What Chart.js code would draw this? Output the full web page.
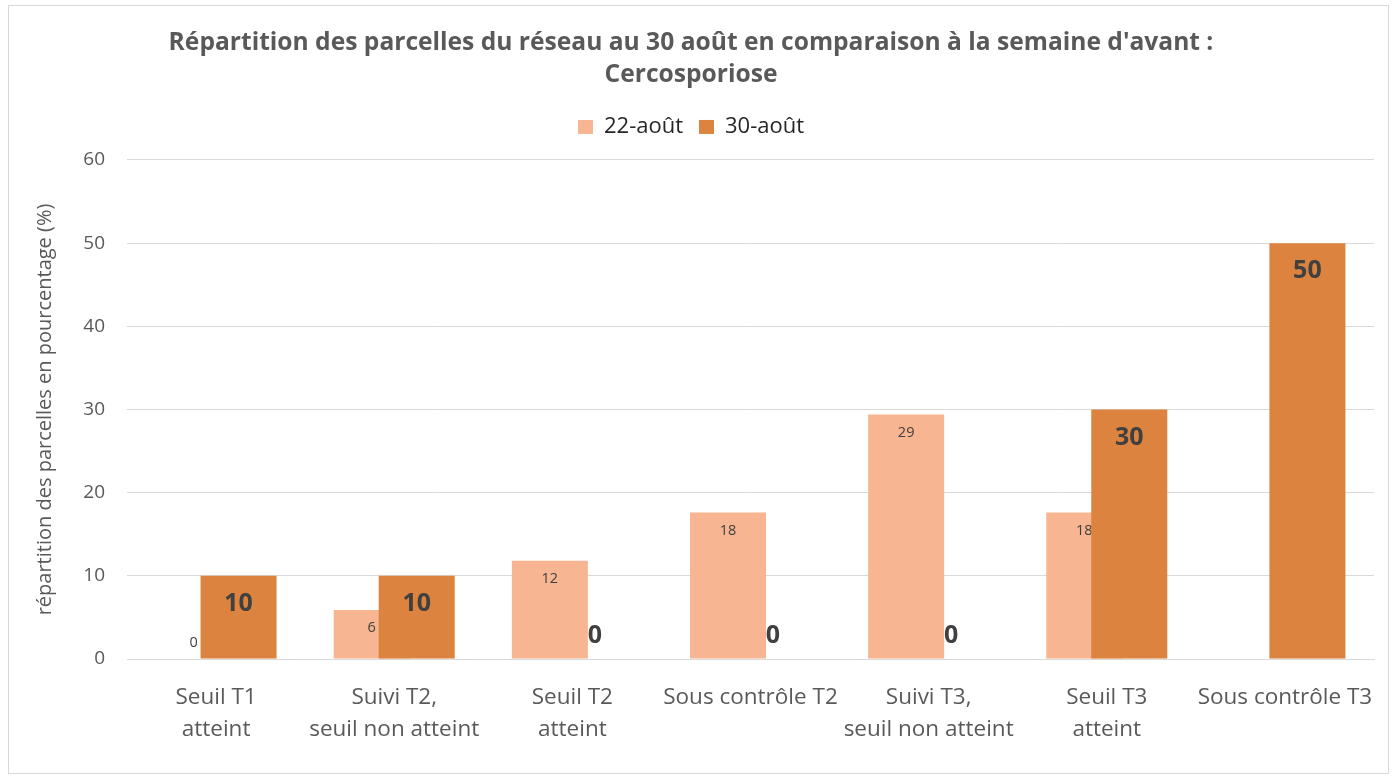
<!DOCTYPE html>
<html>
<head>
<meta charset="utf-8">
<script src="https://cdn.jsdelivr.net/npm/chart.js@4.4.1/dist/chart.umd.min.js"></script>
<style>
    html, body { margin: 0; padding: 0; background: #ffffff; }
    #wrap { width: 1393px; height: 778px; }
</style>
</head>
<body>
<div id="wrap"><canvas id="chart" width="1393" height="778"></canvas></div>
<script>
// Chart data
const categories = [
    ['Seuil T1', 'atteint'],
    ['Suivi T2,', 'seuil non atteint'],
    ['Seuil T2', 'atteint'],
    'Sous contrôle T2',
    ['Suivi T3,', 'seuil non atteint'],
    ['Seuil T3', 'atteint'],
    'Sous contrôle T3'
];
const seriesNames = ['22-août', '30-août'];
const values22 = [0, 5.9, 11.8, 17.6, 29.4, 17.6, null];
const values30 = [10, 10, 0, 0, 0, 30, 50];
const yMin = 0;
const yMax = 60;
const yStep = 10;

const FONT = "'Open Sans', 'Noto Sans', sans-serif";
const GRAY = '#595959';

// white background + thin frame around the whole chart
const framePlugin = {
    id: 'frame',
    beforeDraw(chart) {
        const ctx = chart.ctx;
        ctx.save();
        ctx.fillStyle = '#ffffff';
        ctx.fillRect(0, 0, chart.width, chart.height);
        ctx.strokeStyle = '#d9d9d9';
        ctx.lineWidth = 1;
        ctx.strokeRect(8.5, 5.5, 1380, 768);
        ctx.restore();
    }
};

// leave some extra room under the legend
const legendSpace = {
    id: 'legendSpace',
    beforeLayout(chart) {
        const legend = chart.legend;
        if (legend && !legend._patched) {
            const fit = legend.fit;
            legend.fit = function () {
                fit.call(this);
                this.height += 12;
            };
            legend._patched = true;
        }
    }
};

function drawValueLabels(chart, index) {
    const ctx = chart.ctx;
    const meta = chart.getDatasetMeta(index);
    const data = chart.data.datasets[index].data;
    const base = chart.scales.y.getPixelForValue(0);
    ctx.save();
    ctx.textAlign = 'center';
    ctx.textBaseline = 'middle';
    ctx.fillStyle = '#404040';
    meta.data.forEach(function (bar, i) {
        const v = data[i];
        if (v === null || v === undefined) return;
        let y;
        if (index === 0) {
            ctx.font = "14.5px " + FONT;
            y = v === 0 ? base - 16 : bar.y + 18;
        } else {
            ctx.font = "bold 25px " + FONT;
            y = v === 0 ? base - 23 : bar.y + 28;
        }
        ctx.fillText(String(Math.round(v)), bar.x, y);
    });
    ctx.restore();
}

// draw 22-août first (with its labels), then 30-août on top of it
const layeredBars = {
    id: 'layeredBars',
    beforeDatasetsDraw(chart) {
        for (let i = 0; i < chart.data.datasets.length; i++) {
            chart.getDatasetMeta(i).controller.draw();
            drawValueLabels(chart, i);
        }
        return false;
    }
};

const ctx = document.getElementById('chart').getContext('2d');
new Chart(ctx, {
    type: 'bar',
    data: {
        labels: categories,
        datasets: [{
            label: seriesNames[0],
            data: values22,
            backgroundColor: '#F7B591',
            borderWidth: 0
        }, {
            label: seriesNames[1],
            data: values30,
            backgroundColor: '#DB833F',
            borderWidth: 0
        }]
    },
    options: {
        responsive: false,
        animation: false,
        datasets: {
            bar: {
                categoryPercentage: 0.505,
                barPercentage: 1.69
            }
        },
        layout: {
            padding: { left: 8, right: 19, top: 0, bottom: 0 }
        },
        scales: {
            x: {
                grid: { display: false, drawTicks: false },
                border: { color: '#d9d9d9', width: 1 },
                ticks: {
                    color: GRAY,
                    font: { family: FONT, size: 22.5, lineHeight: 1.44 },
                    padding: 22,
                    maxRotation: 0,
                    autoSkip: false
                },
                afterFit: function (scale) {
                    scale.height = 119;
                    scale.paddingLeft = 0;
                    scale.paddingRight = 0;
                }
            },
            y: {
                min: yMin,
                max: yMax,
                ticks: {
                    stepSize: yStep,
                    color: GRAY,
                    font: { family: FONT, size: 19 },
                    padding: 22
                },
                grid: { color: '#d9d9d9', drawTicks: false },
                border: { display: false },
                title: {
                    display: true,
                    text: 'répartition des parcelles en pourcentage (%)',
                    color: GRAY,
                    font: { family: FONT, size: 20 },
                    padding: { top: 25, bottom: 0 }
                },
                afterFit: function (scale) { scale.width = 119; }
            }
        },
        plugins: {
            title: {
                display: true,
                text: ["Répartition des parcelles du réseau au 30 août en comparaison à la semaine d'avant :", 'Cercosporiose'],
                color: GRAY,
                font: { family: FONT, size: 24.6, weight: 'bold', lineHeight: 1.3 },
                padding: { top: 27, bottom: 9 }
            },
            legend: {
                display: true,
                labels: {
                    color: '#262626',
                    font: { family: FONT, size: 22 },
                    boxWidth: 15,
                    boxHeight: 14,
                    padding: 16
                }
            },
            tooltip: { enabled: false }
        }
    },
    plugins: [framePlugin, legendSpace, layeredBars]
});
</script>
</body>
</html>
